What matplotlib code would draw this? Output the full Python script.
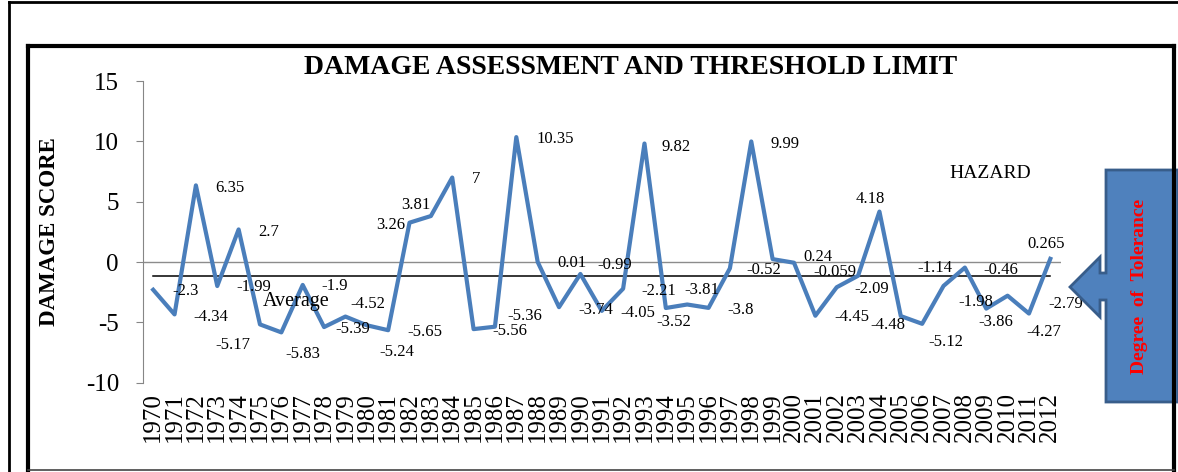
import matplotlib
matplotlib.use("Agg")
import matplotlib.pyplot as plt
from matplotlib.lines import Line2D
from matplotlib.patches import Polygon
import numpy as np

years = list(range(1970, 2013))
damage_score = [-2.3, -4.34, 6.35, -1.99, 2.7, -5.17, -5.83, -1.9, -5.39, -4.52,
                -5.24, -5.65, 3.26, 3.81, 7, -5.56, -5.36, 10.35, 0.01, -3.74,
                -0.99, -4.05, -2.21, 9.82, -3.81, -3.52, -3.8, -0.52, 9.99, 0.24,
                -0.059, -4.45, -2.09, -1.14, 4.18, -4.48, -5.12, -1.98, -0.46, -3.86,
                -2.79, -4.27, 0.265]

# data labels as they sit in the original (text, x in years, y in score units)
label_text = ["-2.3", "6.35", "-4.34", "2.7", "-1.99", "-5.17", "-1.9", "-5.83",
              "-4.52", "-5.39", "-5.24", "-5.65", "3.26", "3.81", "7", "10.35",
              "-5.36", "-5.56", "0.01", "-0.99", "-3.74", "-4.05", "-2.21", "9.82",
              "-3.52", "-3.81", "-3.8", "-0.52", "9.99", "0.24", "-0.059", "-2.09",
              "-4.45", "4.18", "-4.48", "-5.12", "-1.14", "-1.98", "-0.46", "-3.86",
              "-4.27", "0.265", "-2.79"]
label_x = [1971.5, 1973.6, 1972.7, 1975.4, 1974.7, 1973.75, 1978.5, 1977.0,
           1980.06, 1979.36, 1981.4, 1982.7, 1981.1, 1982.3, 1985.1, 1988.8,
           1987.4, 1986.7, 1989.6, 1991.6, 1990.7, 1992.7, 1993.66, 1994.5,
           1994.35, 1995.7, 1997.5, 1998.6, 1999.6, 2001.1, 2001.9, 2003.66,
           2002.7, 2003.55, 2004.4, 2007.1, 2006.6, 2008.5, 2009.7, 2009.45,
           2011.7, 2011.8, 2012.7]
label_y = [-2.42, 6.1, -4.55, 2.5, -2.1, -6.9, -2.0, -7.65,
           -3.5, -5.55, -7.45, -5.8, 3.1, 4.75, 6.9, 10.2,
           -4.5, -5.75, -0.1, -0.25, -3.95, -4.2, -2.4, 9.55,
           -5.0, -2.3, -4.0, -0.65, 9.8, 0.4, -0.85, -2.25,
           -4.55, 5.25, -5.25, -6.6, -0.5, -3.3, -0.65, -5.0,
           -5.8, 1.5, -3.45]

average = np.mean(damage_score)

W, H = 1178, 472
plt.rcParams['font.family'] = ['Liberation Serif', 'DejaVu Serif']
plt.rcParams['axes.unicode_minus'] = False

fig = plt.figure(figsize=(W / 100, H / 100), dpi=100)
ax = fig.add_axes([142.5 / W, 1 - 382.7 / H, (1061 - 142.5) / W, (382.7 - 81) / H])


def px(x, y):
    return x / W, 1 - y / H


ax.set_xlim(1969.5, 2012.5)
ax.set_ylim(-10, 15)
ax.axhline(0, color='#8c8c8c', lw=1.0, zorder=1)
ax.plot([years[0], years[-1]], [average, average], color='black', lw=1.1, zorder=2)
ax.plot(years, damage_score, color='#4a7ebb', lw=3, zorder=3)

for t, x, y in zip(label_text, label_x, label_y):
    ax.text(x, y, t, fontsize=12, ha='center', va='center', zorder=4)

ax.text(1976.7, -3.3, 'Average', fontsize=14.5, ha='center', va='center')
ax.text(2009.2, 7.3, 'HAZARD', fontsize=14, ha='center', va='center')

ax.set_yticks([15, 10, 5, 0, -5, -10])
ax.set_xticks(years)
ax.set_xticklabels([str(y) for y in years], rotation=90, fontsize=18)
ax.tick_params(axis='x', length=0, pad=7)
ax.tick_params(axis='y', labelsize=18, length=5, color='#868686', pad=12, direction='out')
for s in ['top', 'right', 'bottom']:
    ax.spines[s].set_visible(False)
ax.spines['left'].set_color('#868686')
ax.patch.set_alpha(0)

fig.text(*px(631, 68), 'DAMAGE ASSESSMENT AND THRESHOLD LIMIT', fontsize=20,
         fontweight='bold', ha='center', va='center')
fig.text(*px(50, 232), 'DAMAGE SCORE', fontsize=16.5, fontweight='bold',
         rotation=90, ha='center', va='center')

# block arrow "Degree of Tolerance"
arrow_px = [(1106, 170), (1178, 170), (1178, 402), (1106, 402), (1106, 300),
            (1100, 300), (1100, 317), (1070, 287), (1100, 257), (1100, 273),
            (1106, 273)]
arrow = Polygon([px(x, y) for x, y in arrow_px], closed=True, transform=fig.transFigure,
                facecolor='#4f81bd', edgecolor='#385d8a', lw=2)
fig.add_artist(arrow)
fig.text(*px(1140, 286), 'Degree  of  Tolerance', color='red', fontsize=14,
         fontweight='bold', rotation=90, ha='center', va='center')

# frames
def frame_line(x0, y0, x1, y1, lw, color='black'):
    fig.add_artist(Line2D([x0 / W, x1 / W], [1 - y0 / H, 1 - y1 / H], color=color,
                          lw=lw, transform=fig.transFigure, solid_capstyle='projecting'))

frame_line(9, 1.5, W, 1.5, 2)
frame_line(9, 1.5, 9, H, 2)
frame_line(28, 45.5, 1173.5, 45.5, 3)
frame_line(28, 45.5, 28, 469.5, 3)
frame_line(1173.5, 45.5, 1173.5, 469.5, 3)
frame_line(28, 469.5, 1173.5, 469.5, 1.2, '#444444')

fig.savefig('out.png', dpi=100)
